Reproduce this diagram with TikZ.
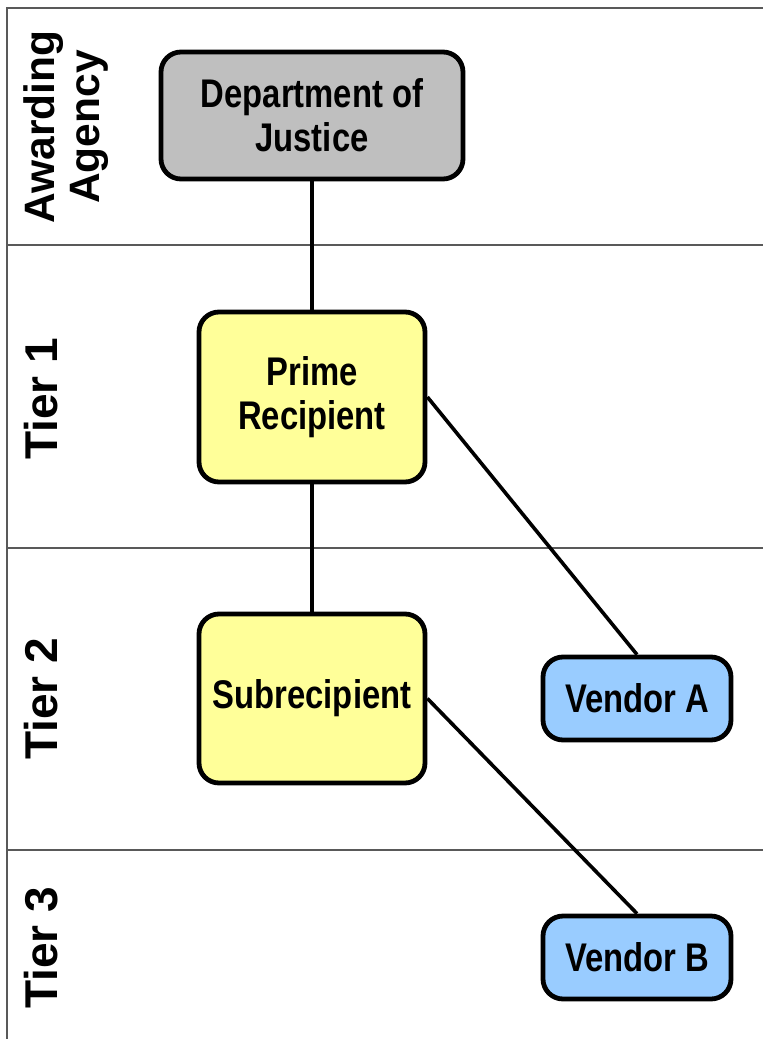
\documentclass[tikz,border=0pt]{standalone}
\usepackage{fontspec}
\setmainfont{Liberation Sans}
\newfontfamily\boxfont[FakeStretch=0.82]{Liberation Sans}
\begin{document}
\begin{tikzpicture}[x=1pt,y=-1pt,
  lane/.style={draw=black!65,line width=1.3pt},
  box/.style={draw=black,line width=4.8pt,rounded corners=20pt,align=center,
    font=\boxfont\fontsize{40}{44}\selectfont\bfseries,inner sep=0pt},
  lanelabel/.style={rotate=90,align=center,font=\fontsize{46}{46}\selectfont\bfseries,inner sep=0pt},
  yellowbox/.style={box,fill={rgb,255:red,255;green,255;blue,153}},
  bluebox/.style={box,fill={rgb,255:red,153;green,204;blue,255}},
  conn/.style={line width=3.6pt}]
\useasboundingbox (0,0) rectangle (763,1039);
\fill[white] (0,0) rectangle (763,1039);
% lanes
\draw[lane] (7,1039) -- (7,8) -- (763,8);
\draw[lane] (7,245) -- (763,245);
\draw[lane] (7,548) -- (763,548);
\draw[lane] (7,850) -- (763,850);
% lane labels
\node[lanelabel,font=\fontsize{42.5}{45}\selectfont\bfseries] (l0) at (66,127) {Awarding\\Agency};
\node[lanelabel] (l1) at (41,399) {Tier 1};
\node[lanelabel] (l2) at (41,699) {Tier 2};
\node[lanelabel] (l3) at (41,948) {Tier 3};
% boxes
\node[box,fill=black!25,minimum width=302pt,minimum height=127pt] (doj) at (312,115.5) {Department of\\Justice};
\node[yellowbox,minimum width=226pt,minimum height=170pt] (prime) at (312,397) {Prime\\Recipient};
\node[yellowbox,minimum width=226pt,minimum height=169pt] (sub) at (312,698.5) {Subrecipient};
\node[bluebox,minimum width=188pt,minimum height=83pt] (va) at (637,698.5) {Vendor A};
\node[bluebox,minimum width=188pt,minimum height=83pt] (vb) at (637,957.5) {Vendor B};
% connectors
\draw[conn] (doj.south) -- (prime.north);
\draw[conn] (prime.south) -- (sub.north);
\draw[conn] (prime.east) -- (va.north);
\draw[conn] (sub.east) -- (vb.north);
\end{tikzpicture}
\end{document}
